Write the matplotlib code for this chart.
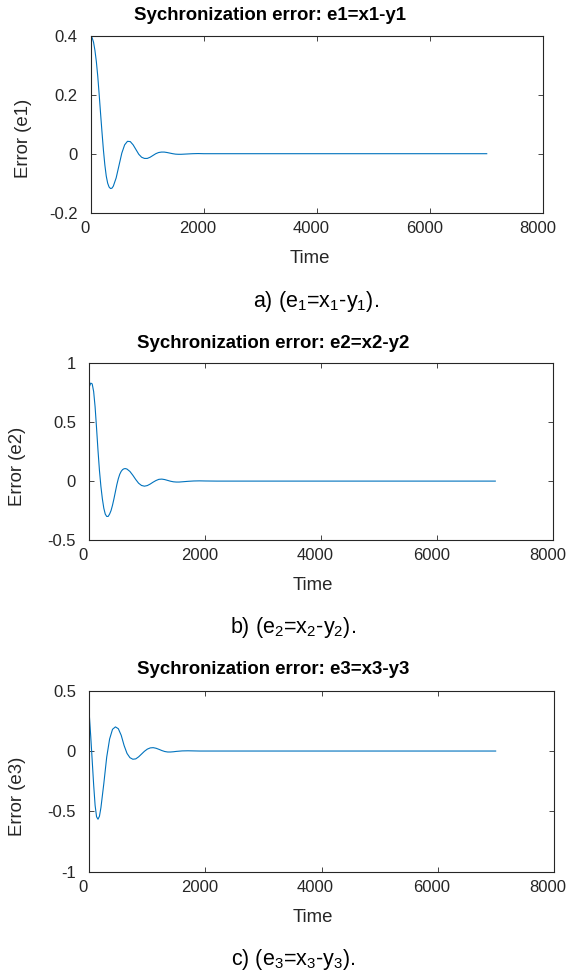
import numpy as np
import matplotlib
matplotlib.use("Agg")
import matplotlib.pyplot as plt
from matplotlib.ticker import FuncFormatter
from matplotlib.transforms import ScaledTranslation

plt.rcParams['font.family'] = ['Liberation Sans', 'DejaVu Sans']
plt.rcParams['mathtext.fontset'] = 'custom'
plt.rcParams['mathtext.rm'] = 'Liberation Sans'
plt.rcParams['axes.unicode_minus'] = False

# time samples (the tail is flat at zero out to 7000)
t_e1 = [0, 25, 50, 75, 100, 125, 150, 175, 200, 225, 250, 275, 300, 325, 350, 375,
        400, 450, 500, 550, 600, 650, 700, 750, 800, 850, 900, 950, 1000, 1050, 1100,
        1150, 1200, 1250, 1300, 1350, 1400, 1450, 1500, 1550, 1600, 1700, 1800, 1900,
        2000, 7000]
e1 = [0.400, 0.393, 0.378, 0.350, 0.312, 0.262, 0.200, 0.135, 0.072, 0.012, -0.038,
      -0.076, -0.100, -0.113, -0.118, -0.117, -0.110, -0.082, -0.040, 0.002, 0.030,
      0.042, 0.041, 0.030, 0.014, -0.002, -0.012, -0.016, -0.016, -0.012, -0.006,
      0.000, 0.004, 0.0055, 0.0055, 0.004, 0.002, 0.000, -0.0015, -0.002, -0.002,
      -0.001, 0.000, 0.0005, 0.000, 0.000]

t_e2 = [0, 25, 50, 75, 100, 125, 150, 175, 200, 225, 250, 275, 300, 325, 350, 375,
        400, 425, 450, 475, 500, 525, 550, 575, 600, 625, 650, 700, 750, 800, 850,
        900, 950, 1000, 1050, 1100, 1150, 1200, 1250, 1300, 1350, 1400, 1450, 1500,
        1550, 1600, 1700, 1800, 1900, 2000, 2200, 7000]
e2 = [0.800, 0.832, 0.825, 0.760, 0.630, 0.450, 0.260, 0.090, -0.045, -0.150, -0.230,
      -0.280, -0.300, -0.300, -0.280, -0.250, -0.205, -0.150, -0.090, -0.030, 0.020,
      0.058, 0.083, 0.098, 0.105, 0.106, 0.102, 0.082, 0.050, 0.014, -0.018, -0.037,
      -0.043, -0.038, -0.025, -0.009, 0.005, 0.015, 0.017, 0.013, 0.006, -0.001,
      -0.006, -0.008, -0.008, -0.006, -0.002, 0.001, 0.002, 0.001, 0.000, 0.000]

t_e3 = [0, 25, 50, 75, 100, 125, 150, 175, 200, 250, 300, 350, 400, 450, 500, 550,
        600, 650, 700, 750, 800, 850, 900, 950, 1000, 1050, 1100, 1150, 1200, 1250,
        1300, 1350, 1400, 1450, 1500, 1600, 1700, 1800, 1900, 7000]
e3 = [0.300, 0.120, -0.080, -0.280, -0.450, -0.545, -0.565, -0.540, -0.470, -0.270,
      -0.050, 0.100, 0.180, 0.200, 0.185, 0.130, 0.045, -0.020, -0.055, -0.068,
      -0.065, -0.048, -0.025, -0.002, 0.016, 0.026, 0.028, 0.023, 0.014, 0.004,
      -0.004, -0.008, -0.008, -0.006, -0.003, 0.001, 0.002, 0.001, 0.000, 0.000]

x_ticks = [0, 2000, 4000, 6000, 8000]
y_ticks_e1 = [-0.2, 0, 0.2, 0.4]
y_ticks_e2 = [-0.5, 0, 0.5, 1]
y_ticks_e3 = [-1, -0.5, 0, 0.5]

titles = ["Sychronization error: e1=x1-y1",
          "Sychronization error: e2=x2-y2",
          "Sychronization error: e3=x3-y3"]
y_labels = ["Error (e1)", "Error (e2)", "Error (e3)"]
captions = [r"a) (e$_\mathregular{1}$=x$_\mathregular{1}$-y$_\mathregular{1}$).",
            r"b) (e$_\mathregular{2}$=x$_\mathregular{2}$-y$_\mathregular{2}$).",
            r"c) (e$_\mathregular{3}$=x$_\mathregular{3}$-y$_\mathregular{3}$)."]

W, H = 566, 973
fig = plt.figure(figsize=(W / 100, H / 100), dpi=100)
ink = '#262626'


def fx(x):
    return x / W


def fy(y):
    return 1 - y / H


def make_panel(box, t, e, yticks, title, ylab, cap, pos):
    left, top, right, bottom = box
    ax = fig.add_axes([fx(left), fy(bottom), fx(right - left), (bottom - top) / H])
    ax.plot(t, e, color='#0072BD', lw=0.8)
    ax.set_xlim(0, 8000)
    ax.set_ylim(yticks[0], yticks[-1])
    ax.set_xticks(x_ticks)
    ax.set_yticks(yticks)
    ax.yaxis.set_major_formatter(FuncFormatter(lambda v, p: '%g' % v))
    ax.tick_params(direction='in', length=3.6, width=0.6, top=True, right=True,
                   colors=ink, labelsize=12)
    ax.tick_params(axis='x', pad=6)
    ax.tick_params(axis='y', pad=9.5)
    # the x tick labels in the source sit a few pixels left of their ticks
    shift = ScaledTranslation(-6 / 100, 0, fig.dpi_scale_trans)
    for lab in ax.get_xticklabels():
        lab.set_transform(lab.get_transform() + shift)
    for s in ax.spines.values():
        s.set_color(ink)
        s.set_linewidth(0.8)
    (tx, ty), (yx, yy), (lx, ly), (cx, cy) = pos
    fig.text(fx(tx), fy(ty), title, fontsize=13.4, fontweight='bold',
             ha='center', va='center')
    fig.text(fx(yx), fy(yy), ylab, fontsize=13.4, rotation=90, color=ink,
             ha='center', va='center')
    fig.text(fx(lx), fy(ly), 'Time', fontsize=13.4, color=ink,
             ha='center', va='center')
    fig.text(fx(cx), fy(cy), cap, fontsize=15.5, ha='center', va='center')
    return ax


make_panel((90.7, 35.7, 543.3, 212.7), t_e1, e1, y_ticks_e1, titles[0], y_labels[0],
           captions[0], [(270, 15), (23.5, 138), (310, 258), (316, 301)])
make_panel((89.3, 363.3, 553.3, 540), t_e2, e2, y_ticks_e2, titles[1], y_labels[1],
           captions[1], [(273, 343), (18, 466), (313, 585), (293, 628)])
make_panel((89.3, 690.7, 553.7, 871.7), t_e3, e3, y_ticks_e3, titles[2], y_labels[2],
           captions[2], [(273, 669), (18, 796), (313, 917), (293, 960)])

fig.savefig("out.png", dpi=100)
